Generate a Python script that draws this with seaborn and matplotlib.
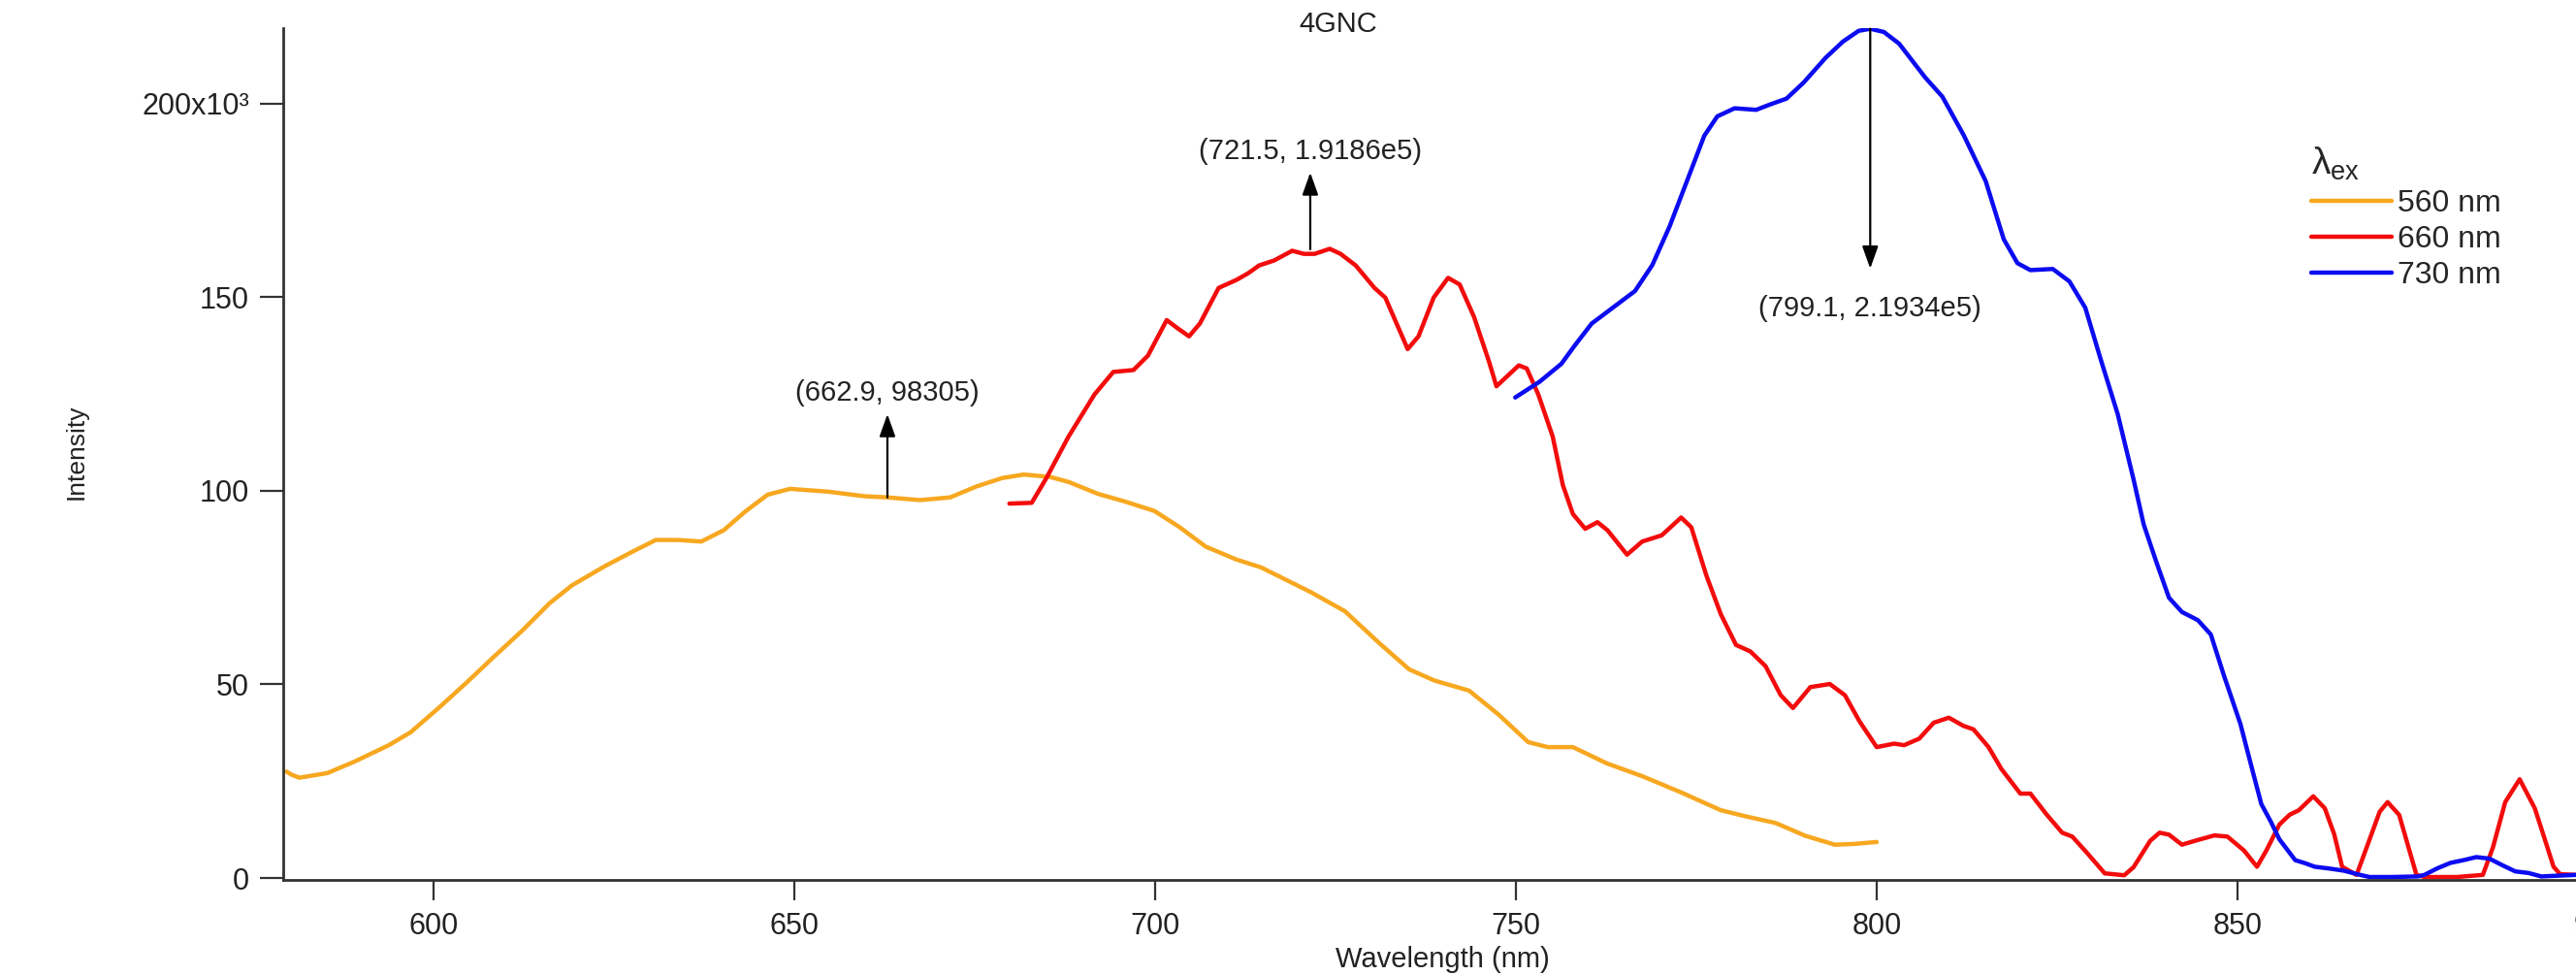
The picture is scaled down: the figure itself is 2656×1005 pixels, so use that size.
import numpy as np
import pandas as pd
import matplotlib
matplotlib.use("Agg")
import matplotlib.pyplot as plt
import seaborn as sns

# emission spectra (wavelength in nm, intensity in 1e3 counts)
wl_560 = [579.6, 580.3, 581.4, 585.3, 589.1, 593.8, 596.8, 600.7, 604.6, 608.4,
          612.3, 616.1, 619.2, 623.8, 627.7, 630.8, 633.9, 637.1, 640.2, 643.3,
          646.3, 649.4, 654.6, 659.7, 662.9, 667.4, 671.6, 675.2, 678.8, 681.8,
          685.4, 688.0, 692.1, 695.7, 699.9, 703.4, 707.0, 711.2, 714.7, 721.5,
          726.3, 731.1, 735.2, 738.7, 743.5, 747.6, 751.7, 754.4, 757.9, 762.6,
          767.5, 772.9, 778.4, 781.9, 786.0, 790.1, 794.2, 796.9, 800.0]
int_560 = [27.5, 26.7, 25.9, 27.1, 30.1, 34.3, 37.6, 43.9, 50.5, 57.2,
           63.9, 71.0, 75.6, 80.6, 84.4, 87.3, 87.3, 86.9, 89.8, 94.8,
           99.0, 100.5, 99.8, 98.6, 98.3, 97.6, 98.3, 101.1, 103.3, 104.2,
           103.6, 102.3, 99.2, 97.3, 94.8, 90.6, 85.6, 82.3, 80.2, 73.9,
           68.9, 60.6, 53.9, 51.0, 48.4, 42.2, 35.1, 33.8, 33.8, 29.6,
           26.3, 22.1, 17.5, 15.9, 14.2, 10.9, 8.6, 8.8, 9.3]

wl_660 = [679.8, 682.9, 684.9, 688.0, 691.6, 694.2, 697.0, 699.0, 701.6, 703.1,
          704.7, 706.2, 708.8, 711.3, 712.9, 714.4, 716.5, 719.0, 720.6, 722.1,
          724.2, 725.7, 727.8, 730.4, 731.9, 735.0, 736.5, 738.6, 740.6, 742.2,
          744.2, 746.3, 747.3, 750.4, 751.5, 753.1, 755.1, 756.5, 757.9, 759.6,
          761.3, 762.7, 765.4, 767.5, 770.2, 772.9, 774.3, 776.4, 778.4, 780.5,
          782.5, 784.6, 786.7, 788.4, 790.8, 793.5, 795.6, 797.6, 800.0, 802.4,
          803.8, 805.9, 807.9, 810.0, 812.0, 813.4, 815.5, 817.3, 819.9, 821.3,
          823.5, 825.7, 827.1, 828.9, 831.6, 834.3, 835.6, 837.9, 839.2, 840.5,
          842.3, 844.1, 846.8, 848.6, 850.9, 852.7, 854.0, 855.8, 857.2, 858.5,
          860.5, 862.1, 863.4, 864.5, 866.5, 867.9, 869.7, 870.8, 872.4, 873.7,
          874.8, 875.9, 880.4, 884.0, 885.4, 887.1, 889.1, 891.2, 892.5, 893.8,
          894.7, 896.9]
int_660 = [96.7, 96.9, 103.2, 114.0, 124.9, 130.7, 131.2, 134.9, 144.1, 142.0,
           139.9, 143.2, 152.4, 154.5, 156.2, 158.2, 159.5, 162.0, 161.2, 161.2,
           162.5, 161.2, 158.2, 152.4, 149.9, 136.6, 139.9, 149.9, 155.0, 153.3,
           144.9, 133.2, 127.0, 132.4, 131.6, 124.9, 114.0, 101.5, 94.0, 90.2,
           91.9, 89.8, 83.5, 86.9, 88.5, 93.1, 90.6, 78.1, 68.1, 60.2,
           58.5, 54.7, 47.2, 43.9, 49.3, 50.1, 47.2, 40.5, 33.8, 34.7,
           34.3, 36.0, 40.1, 41.4, 39.3, 38.4, 33.8, 28.1, 21.8, 21.8,
           16.5, 11.7, 10.7, 7.0, 1.2, 0.7, 2.8, 9.6, 11.7, 11.2,
           8.6, 9.6, 11.0, 10.7, 7.1, 2.9, 7.1, 13.8, 16.3, 17.5,
           21.1, 18.0, 11.3, 2.9, 0.8, 7.9, 17.1, 19.6, 16.3, 7.9,
           0.8, 0.25, 0.25, 0.8, 7.9, 19.6, 25.5, 18.0, 10.5, 2.9,
           1.0, 0.8]

wl_730 = [749.9, 753.3, 756.3, 758.1, 760.5, 763.5, 766.5, 768.9, 771.3, 773.7,
          776.1, 777.9, 780.3, 783.3, 785.1, 787.5, 789.9, 792.9, 795.3, 797.5,
          799.1, 801.0, 803.1, 806.7, 809.1, 812.1, 815.1, 817.6, 819.5, 821.3,
          824.4, 826.7, 828.9, 831.1, 833.4, 835.6, 837.0, 838.7, 840.5, 842.3,
          844.5, 846.3, 848.1, 850.4, 852.0, 853.3, 854.6, 855.8, 858.0, 859.4,
          860.7, 862.5, 864.7, 867.0, 868.3, 871.4, 875.0, 875.9, 877.7, 879.5,
          881.3, 883.1, 884.9, 886.7, 888.5, 890.3, 892.1, 896.9]
int_730 = [124.1, 128.2, 132.8, 137.4, 143.2, 147.4, 151.6, 158.3, 168.3, 180.0,
           191.7, 196.7, 198.8, 198.4, 199.7, 201.3, 205.5, 211.8, 216.0, 218.8,
           219.34, 218.5, 215.5, 206.8, 201.8, 191.7, 180.0, 165.0, 158.8, 157.0,
           157.3, 154.1, 147.3, 133.6, 119.8, 102.9, 91.3, 81.9, 72.4, 68.7,
           66.6, 62.9, 52.4, 39.8, 28.3, 19.1, 14.6, 10.0, 4.6, 3.8,
           2.9, 2.5, 1.9, 0.8, 0.25, 0.25, 0.4, 0.8, 2.5, 3.9,
           4.6, 5.4, 5.0, 3.3, 1.7, 1.3, 0.4, 0.8]

series_names = ["560 nm", "660 nm", "730 nm"]
series_colors = ["#F7A820", "#F20C0C", "#0C0CF0"]

# peak labels: (x, y of the marked point, arrow tip y, label y, label text)
peak_labels = [
    (662.9, 98305, 119800, 125300, "(662.9, 98305)"),
    (721.5, 162400, 182200, 187700, "(721.5, 1.9186e5)"),
    (799.1, 219340, 157400, 147100, "(799.1, 2.1934e5)"),
]

y_ticks = [0, 50000, 100000, 150000, 200000]
y_tick_labels = ["0", "50", "100", "150", "200x10³"]
x_ticks = [600, 650, 700, 750, 800, 850, 900]

# long table for seaborn
frames = []
for name, wl, inten in zip(series_names, [wl_560, wl_660, wl_730], [int_560, int_660, int_730]):
    frames.append(pd.DataFrame({"Wavelength": wl,
                                "Intensity": np.array(inten) * 1000,
                                "ex": name}))
df = pd.concat(frames, ignore_index=True)

sns.set_style("ticks")
plt.rcParams["font.family"] = ["Liberation Sans", "DejaVu Sans"]
plt.rcParams["mathtext.fontset"] = "custom"
plt.rcParams["mathtext.rm"] = "Liberation Sans"

W, H = 2656, 1005
fig = plt.figure(figsize=(W / 100, H / 100), dpi=100)
x_lo, x_hi = 579.1, 905.0
px_per_nm = 7.44
ax = fig.add_axes([291.5 / W, 98 / H, (x_hi - x_lo) * px_per_nm / W, 878 / H])

sns.lineplot(data=df, x="Wavelength", y="Intensity", hue="ex",
             palette=dict(zip(series_names, series_colors)),
             estimator=None, sort=False, linewidth=3.2, ax=ax)
for line in ax.get_lines():
    line.set_solid_joinstyle("round")
    line.set_solid_capstyle("round")

ax.set_xlim(x_lo, x_hi)
ax.set_ylim(-500, 219500)
ax.set_xticks(x_ticks)
ax.set_yticks(y_ticks)
ax.set_yticklabels(y_tick_labels)

for side in ["top", "right"]:
    ax.spines[side].set_visible(False)
for side in ["left", "bottom"]:
    ax.spines[side].set_color("#333333")
    ax.spines[side].set_linewidth(2)
ax.tick_params(axis="both", colors="#333333", labelcolor="#222222", width=1.6, labelsize=22)
ax.tick_params(axis="y", length=17, pad=8)
ax.tick_params(axis="x", length=15, pad=9)

ax.set_xlabel("Wavelength (nm)", fontsize=21, color="#222222", va="top")
ax.xaxis.set_label_coords(0.493, -0.078)
ax.set_ylabel("Intensity", fontsize=19, color="#222222")
ax.yaxis.set_label_coords(-0.083, 0.502)
ax.set_title("4GNC", x=0.449, y=0.9954, va="center", fontsize=21, color="#222222")

for x, y0, y1, ylab, txt in peak_labels:
    ax.annotate("", xy=(x, y1), xytext=(x, y0),
                arrowprops=dict(arrowstyle="-|>,head_length=0.7,head_width=0.25",
                                mutation_scale=20, color="black", lw=1.6,
                                shrinkA=0, shrinkB=0))
    ax.text(x, ylab, txt, ha="center", va="center", fontsize=21, color="#222222")

leg = ax.legend(title=r"$\mathregular{\lambda_{ex}}$", loc="upper left",
                bbox_to_anchor=(2383 / W, 1 - 150 / H), bbox_transform=fig.transFigure,
                frameon=False, fontsize=23, title_fontsize=28, handlelength=2.6,
                handletextpad=0.2, labelspacing=0.22, borderpad=0, borderaxespad=0,
                alignment="left")
for line in leg.get_lines():
    line.set_linewidth(3.2)

fig.savefig("out.png", dpi=100)
